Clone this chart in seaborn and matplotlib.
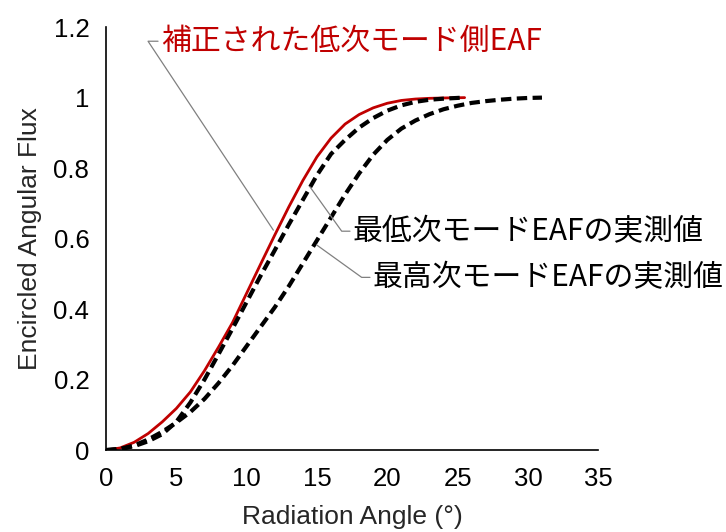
import pandas as pd
import matplotlib
matplotlib.use('Agg')
import matplotlib.pyplot as plt
import seaborn as sns
from matplotlib.ticker import FuncFormatter

# Corrected low-order EAF (red)
angle_corr = [0, 1, 2, 3, 4, 5, 6, 7, 8, 9, 10, 11, 12, 13, 14, 15, 16, 17, 18, 19, 20, 21, 22, 23, 24, 25.5]
eaf_corr = [0, 0.006, 0.022, 0.047, 0.08, 0.118, 0.165, 0.225, 0.292, 0.362, 0.445, 0.528, 0.61, 0.69,
            0.765, 0.832, 0.885, 0.925, 0.952, 0.971, 0.984, 0.992, 0.996, 0.998, 0.999, 1.0]

# Measured lowest-order EAF
angle_low = [0, 1, 2, 3, 4, 5, 6, 7, 8, 9, 10, 11, 12, 13, 14, 15, 16, 17, 18, 19, 20, 21, 22, 23, 24, 25.4]
eaf_low = [0, 0.003, 0.011, 0.025, 0.045, 0.08, 0.135, 0.2, 0.272, 0.345, 0.42, 0.495, 0.567, 0.64,
           0.71, 0.78, 0.84, 0.88, 0.915, 0.942, 0.963, 0.978, 0.988, 0.994, 0.997, 1.0]

# Measured highest-order EAF
angle_high = [0, 1, 2, 3, 4, 5, 6, 7, 8, 9, 10, 11, 12, 13, 14, 15, 16, 17, 18, 19, 20, 21, 22, 23, 24,
              25, 26, 27, 28, 29, 30, 31]
eaf_high = [0, 0.003, 0.013, 0.03, 0.052, 0.078, 0.108, 0.145, 0.19, 0.24, 0.295, 0.35, 0.405, 0.465,
            0.53, 0.595, 0.66, 0.725, 0.785, 0.838, 0.88, 0.912, 0.935, 0.953, 0.967, 0.977, 0.985,
            0.99, 0.994, 0.997, 0.999, 1.0]

label_corr = '補正された低次モード側EAF'
label_low = '最低次モードEAFの実測値'
label_high = '最高次モードEAFの実測値'

sns.set_theme(style='white')
plt.rcParams['font.family'] = ['Liberation Sans', 'Noto Sans CJK JP', 'DejaVu Sans']

fig = plt.figure(figsize=(7.26, 5.32), dpi=100)
ax = fig.add_axes([0.146, 0.154, 0.678, 0.795])

sns.lineplot(x=angle_corr, y=eaf_corr, ax=ax, color='#C00000', lw=2.0, sort=False)
sns.lineplot(x=angle_low, y=eaf_low, ax=ax, color='black', lw=3.0, sort=False)
ax.lines[-1].set_dashes((2.5, 1.3))
sns.lineplot(x=angle_high, y=eaf_high, ax=ax, color='black', lw=3.0, sort=False)
ax.lines[-1].set_dashes((2.5, 1.3))

ax.set_xlim(0, 35)
ax.set_ylim(0, 1.2)
ax.set_xticks(range(0, 36, 5))
ax.set_yticks([0, 0.2, 0.4, 0.6, 0.8, 1.0, 1.2])
ax.yaxis.set_major_formatter(FuncFormatter(lambda v, p: f'{v:g}'))
ax.tick_params(direction='out', length=6, width=1.2, colors='black', labelsize=18.5, pad=6)
ax.set_xlabel('Radiation Angle (°)', fontsize=19, color='#262626', labelpad=10.5)
ax.set_ylabel('Encircled Angular Flux', fontsize=19, color='#262626', labelpad=8)
sns.despine(ax=ax)
for s in ['left', 'bottom']:
    ax.spines[s].set_color('black')
    ax.spines[s].set_linewidth(1.2)

# leader lines: curve point -> corner -> short horizontal tick, then text
cjk = ['Noto Sans CJK JP', 'DejaVu Sans']
leaders = [
    (label_corr, (11.9, 0.624), (2.99, 1.16), 3.7, 3.95, '#C00000'),
    (label_low, (14.5, 0.747), (16.76, 0.621), 17.35, 17.55, 'black'),
    (label_high, (14.98, 0.582), (18.18, 0.49), 18.77, 18.95, 'black'),
]
for text, pt, corner, tick_end, tx, col in leaders:
    ax.plot([pt[0], corner[0], tick_end], [pt[1], corner[1], corner[1]],
            color='#808080', lw=0.9, clip_on=False)
    ax.text(tx, corner[1], text, color=col, fontsize=21.5, family=cjk,
            ha='left', va='center', clip_on=False)

fig.savefig('out.png', dpi=100)
